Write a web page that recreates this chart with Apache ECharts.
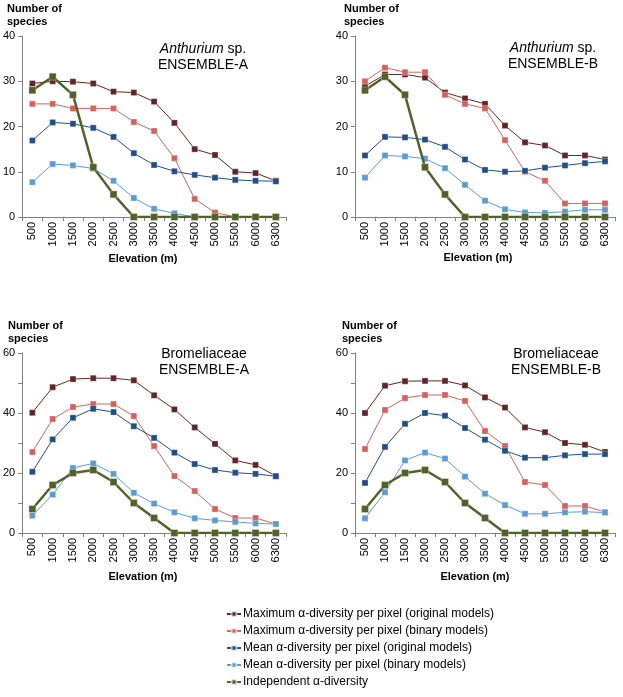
<!DOCTYPE html>
<html>
<head>
<meta charset="utf-8">
<script src="https://cdn.jsdelivr.net/npm/echarts@6/dist/echarts.min.js"></script>
<style>
  html, body { margin: 0; padding: 0; background: #fff; }
  #chart { width: 623px; height: 697px; }
</style>
</head>
<body>
<div id="chart"></div>
<script>
// elevation classes (x axis)
const elevations = ['500', '1000', '1500', '2000', '2500', '3000', '3500', '4000', '4500', '5000', '5500', '6000', '6300']

const seriesNames = [
  'Maximum α-diversity per pixel (original models)',
  'Maximum α-diversity per pixel (binary models)',
  'Mean α-diversity per pixel (original models)',
  'Mean α-diversity per pixel (binary models)',
  'Independent α-diversity'
]

// Anthurium sp. ENSEMBLE-A
const anthAMaxOrig = [29.5, 30, 29.9, 29.5, 27.7, 27.5, 25.5, 20.8, 15, 13.7, 10, 9.7, 8]
const anthAMaxBin = [25, 25, 24, 24, 24, 21, 19, 13, 4, 1, 0, 0, 0]
const anthAMeanOrig = [16.9, 20.9, 20.6, 19.7, 17.7, 14.1, 11.5, 10.1, 9.3, 8.7, 8.2, 8.0, 7.9]
const anthAMeanBin = [7.7, 11.7, 11.4, 10.7, 8.0, 4.2, 1.8, 0.8, 0, 0, 0, 0, 0]
const anthAIndep = [28, 31, 27, 11, 5, 0, 0, 0, 0, 0, 0, 0, 0]

// Anthurium sp. ENSEMBLE-B
const anthBMaxOrig = [28.9, 31.5, 31.5, 30.8, 27.5, 26.2, 25, 20.2, 16.5, 15.8, 13.6, 13.6, 12.7]
const anthBMaxBin = [30, 33, 32, 32, 27, 25, 24, 17, 10, 8, 3, 3, 3]
const anthBMeanOrig = [13.6, 17.7, 17.6, 17.1, 15.5, 12.7, 10.4, 10, 10.2, 10.9, 11.4, 11.9, 12.3]
const anthBMeanBin = [8.7, 13.6, 13.4, 12.9, 10.8, 7.1, 3.6, 1.7, 1.0, 0.9, 1.2, 1.6, 1.6]
const anthBIndep = [28, 31, 27, 11, 5, 0, 0, 0, 0, 0, 0, 0, 0]

// Bromeliaceae ENSEMBLE-A
const bromAMaxOrig = [40.1, 48.6, 51.3, 51.6, 51.6, 50.9, 45.9, 41.2, 35.2, 29.7, 24.2, 22.7, 19]
const bromAMaxBin = [27, 38, 42, 43, 43, 39, 29, 19, 14, 8, 5, 5, 3]
const bromAMeanOrig = [20.4, 31.2, 38.4, 41.4, 40.3, 35.6, 31.7, 26.8, 23, 21, 20.1, 19.7, 18.9]
const bromAMeanBin = [5.8, 12.8, 21.7, 23.2, 19.7, 13.4, 9.8, 6.9, 4.9, 4.2, 3.7, 3.2, 3]
const bromAIndep = [8, 16, 20, 21, 17, 10, 5, 0, 0, 0, 0, 0, 0]

// Bromeliaceae ENSEMBLE-B
const bromBMaxOrig = [40, 49.1, 50.6, 50.7, 50.7, 49.2, 45.2, 41.8, 35.2, 33.6, 30, 29.4, 27]
const bromBMaxBin = [28, 41, 45, 46, 46, 44, 34, 29, 17, 16, 9, 9, 7]
const bromBMeanOrig = [16.7, 28.7, 36.4, 40, 39.1, 35, 31.1, 27.4, 25.1, 25.1, 25.9, 26.3, 26.3]
const bromBMeanBin = [4.9, 13.6, 24.2, 26.8, 24.8, 18.8, 13.1, 9.3, 6.4, 6.4, 6.9, 7.1, 6.8]
const bromBIndep = [8, 16, 20, 21, 17, 10, 5, 0, 0, 0, 0, 0, 0]

const panels = [
  { data: [anthAMaxOrig, anthAMaxBin, anthAMeanOrig, anthAMeanBin, anthAIndep], max: 40, labelStep: 10 },
  { data: [anthBMaxOrig, anthBMaxBin, anthBMeanOrig, anthBMeanBin, anthBIndep], max: 40, labelStep: 10 },
  { data: [bromAMaxOrig, bromAMaxBin, bromAMeanOrig, bromAMeanBin, bromAIndep], max: 60, labelStep: 20 },
  { data: [bromBMaxOrig, bromBMaxBin, bromBMeanOrig, bromBMeanBin, bromBIndep], max: 60, labelStep: 20 }
]

const colors = ['#632523', '#D9605A', '#1F4E8C', '#5B9BD5', '#4F6228']

const grids = [
  { left: 22, top: 36, width: 264, height: 181 },
  { left: 355, top: 36, width: 260, height: 181 },
  { left: 22, top: 353, width: 264, height: 180 },
  { left: 355, top: 353, width: 260, height: 180 }
]

const font = 'Arial, "Liberation Sans", sans-serif'
const axisColor = '#7f7f7f'

const xAxes = grids.map((g, i) => ({
  type: 'category',
  gridIndex: i,
  data: elevations,
  boundaryGap: true,
  axisLine: { lineStyle: { color: axisColor, width: 1 } },
  axisTick: { show: true, inside: false, length: 4, lineStyle: { color: axisColor } },
  axisLabel: { rotate: 90, fontSize: 11, color: '#000', fontFamily: font, margin: 5, interval: 0 },
  splitLine: { show: false }
}))

const yAxes = panels.map((p, i) => ({
  type: 'value',
  gridIndex: i,
  min: 0,
  max: p.max,
  interval: 10,
  axisLine: { show: true, lineStyle: { color: axisColor, width: 1 } },
  axisTick: { show: true, length: 4, lineStyle: { color: axisColor } },
  axisLabel: {
    fontSize: 11,
    color: '#000',
    fontFamily: font,
    margin: 7,
    formatter: v => (v % p.labelStep === 0 ? v : '')
  },
  splitLine: { show: false }
}))

const series = []
panels.forEach((p, i) => {
  p.data.forEach((vals, k) => {
    const indep = k === 4
    series.push({
      name: seriesNames[k],
      type: 'line',
      xAxisIndex: i,
      yAxisIndex: i,
      data: vals,
      symbol: 'rect',
      symbolSize: indep ? 7 : 6,
      z: indep ? 5 : 2,
      lineStyle: { color: colors[k], width: indep ? 2.5 : 1 },
      itemStyle: { color: colors[k], borderColor: 'rgba(255,255,255,0.6)', borderWidth: 0.5 },
      emphasis: { disabled: true },
      animation: false
    })
  })
})

const yTitle = (left, top) => ({
  text: 'Number of\nspecies',
  left: left,
  top: top,
  padding: 0,
  textStyle: { fontSize: 11, fontWeight: 'bold', color: '#000', fontFamily: font, lineHeight: 13 }
})

const xTitle = (cx, top) => ({
  text: 'Elevation (m)',
  left: cx,
  top: top,
  textAlign: 'center',
  padding: 0,
  textStyle: { fontSize: 11, fontWeight: 'bold', color: '#000', fontFamily: font }
})

const panelTitle = (cx, top, rich) => ({
  text: rich,
  left: cx,
  top: top,
  textAlign: 'center',
  padding: 0,
  textStyle: {
    fontSize: 14, fontWeight: 'normal', color: '#000', fontFamily: font, lineHeight: 16,
    rich: {
      it: { fontStyle: 'italic', fontWeight: 'normal', fontSize: 14, fontFamily: font, color: '#000' },
      n: { fontWeight: 'normal', fontSize: 14, fontFamily: font, color: '#000' }
    }
  }
})

const chart = echarts.init(document.getElementById('chart'))
chart.setOption({
  backgroundColor: '#fff',
  animation: false,
  title: [
    yTitle(7, 2),
    yTitle(344, 2),
    yTitle(8, 319),
    yTitle(342, 319),
    xTitle(143, 253),
    xTitle(478, 252),
    xTitle(143, 571),
    xTitle(475, 571),
    panelTitle(203, 41, '{it|Anthurium} {n|sp.}\n{n|ENSEMBLE-A}'),
    panelTitle(553, 40, '{it|Anthurium} {n|sp.}\n{n|ENSEMBLE-B}'),
    panelTitle(204, 346, '{n|Bromeliaceae}\n{n|ENSEMBLE-A}'),
    panelTitle(556, 346, '{n|Bromeliaceae}\n{n|ENSEMBLE-B}')
  ],
  legend: {
    orient: 'vertical',
    left: 226,
    top: 608,
    itemWidth: 14,
    itemHeight: 6,
    itemGap: 5,
    padding: 0,
    selectedMode: false,
    data: seriesNames,
    textStyle: { fontSize: 12, color: '#000', fontFamily: font, padding: [0, 0, 0, -3] }
  },
  grid: grids,
  xAxis: xAxes,
  yAxis: yAxes,
  series: series
})
</script>
</body>
</html>
